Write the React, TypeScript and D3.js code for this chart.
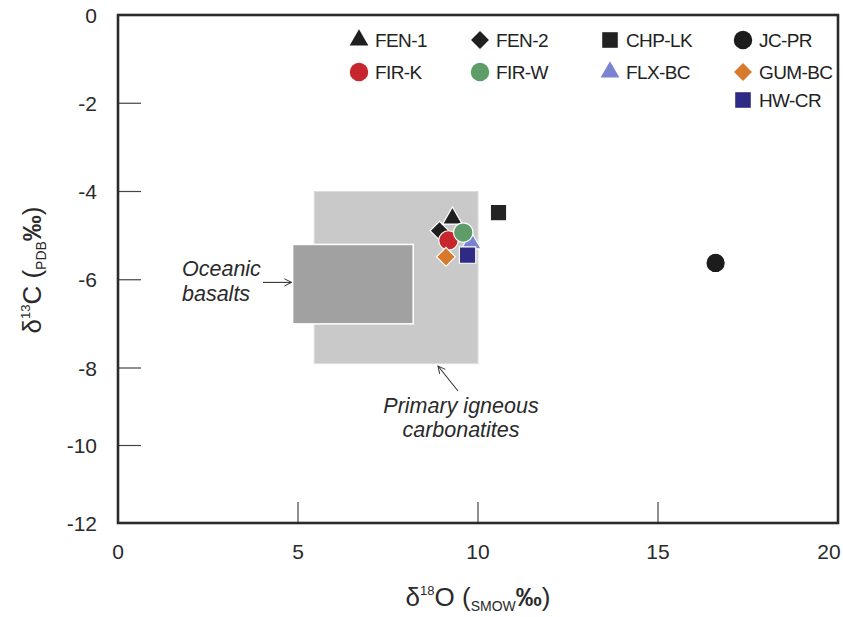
import React, { useEffect, useRef } from 'react'
import * as d3 from 'd3'

// sample series (order = legend order)
const series = ['FEN-1', 'FEN-2', 'CHP-LK', 'JC-PR', 'FIR-K', 'FIR-W', 'FLX-BC', 'GUM-BC', 'HW-CR']
const d18O = [9.29, 8.93, 10.57, 16.6, 9.18, 9.59, 9.81, 9.11, 9.71]
const d13C = [-4.61, -4.89, -4.48, -5.62, -5.11, -4.93, -5.17, -5.48, -5.44]
const shapes = ['triangle', 'diamond', 'square', 'circle', 'circle', 'circle', 'triangle', 'diamond', 'square']
const colors = ['#1f1f1f', '#1f1f1f', '#232323', '#1c1c1c', '#c8262f', '#5e9d6a', '#7a83d0', '#d77a2c', '#2e2a85']
const drawOrder = [1, 0, 6, 4, 5, 7, 8, 2, 3]

// reference fields
const fieldNames = ['Primary igneous carbonatites', 'Oceanic basalts']
const fieldX = [[5.45, 10], [4.85, 8.2]]
const fieldY = [[-7.9, -4], [-7.0, -5.2]]
const fieldFill = ['#c9c9c9', '#a1a1a1']

const xTicks = [0, 5, 10, 15, 20]
const yTicks = [0, -2, -4, -6, -8, -10, -12]

const W = 843
const H = 617
const font = '"Liberation Sans", Arial, sans-serif'

const symbolPath = (shape: string, big: boolean) => {
    const k = big ? 1.05 : 0.95
    if (shape === 'circle') return d3.symbol(d3.symbolCircle, Math.PI * 9.5 * 9.5 * k)()
    if (shape === 'square') return d3.symbol(d3.symbolSquare, 16 * 16 * k)()
    if (shape === 'triangle') return d3.symbol(d3.symbolTriangle, 160 * k)()
    return d3.symbol(d3.symbolSquare, 13 * 13 * k)()
}

const App = () => {
    const svgRef = useRef<SVGSVGElement>(null)

    useEffect(() => {
        const svg = d3.select(svgRef.current)
        svg.selectAll('*').remove()

        const x = d3.scaleLinear().domain([0, 20]).range([118, 838])
        // the original figure's y axis is not evenly spaced below -8
        const y = d3.scaleLinear().domain([0, -8, -12]).range([15, 368, 523])

        svg.append('rect').attr('width', W).attr('height', H).attr('fill', '#fff')

        const defs = svg.append('defs')
        defs.append('marker')
            .attr('id', 'arr')
            .attr('viewBox', '0 0 10 10')
            .attr('refX', 9).attr('refY', 5)
            .attr('markerWidth', 9).attr('markerHeight', 9)
            .attr('markerUnits', 'userSpaceOnUse')
            .attr('orient', 'auto')
            .append('path')
            .attr('d', 'M1,1 L9,5 L1,9')
            .attr('fill', 'none')
            .attr('stroke', '#333')
            .attr('stroke-width', 1.1)

        // fields
        fieldNames.forEach((n, i) => {
            svg.append('rect')
                .attr('x', x(fieldX[i][0]))
                .attr('y', y(fieldY[i][1]))
                .attr('width', x(fieldX[i][1]) - x(fieldX[i][0]))
                .attr('height', y(fieldY[i][0]) - y(fieldY[i][1]))
                .attr('fill', fieldFill[i])
                .attr('stroke', i === 0 ? '#dcdcdc' : '#ffffff')
                .attr('stroke-width', i === 0 ? 1 : 1.5)
        })

        // annotations
        const ann = svg.append('g')
            .attr('font-family', font)
            .attr('font-style', 'italic')
            .attr('font-size', 21.5)
            .attr('fill', '#2a2a2a')
        ann.append('text').attr('x', 182).attr('y', 276).text('Oceanic')
        ann.append('text').attr('x', 182).attr('y', 301).text('basalts')
        ann.append('line')
            .attr('x1', 263).attr('y1', y(-6.06))
            .attr('x2', x(fieldX[1][0]) - 1).attr('y2', y(-6.06))
            .attr('stroke', '#333').attr('stroke-width', 1.1)
            .attr('marker-end', 'url(#arr)')
        ann.append('text').attr('x', 461).attr('y', 413).attr('text-anchor', 'middle').text('Primary igneous')
        ann.append('text').attr('x', 461).attr('y', 437).attr('text-anchor', 'middle').text('carbonatites')
        ann.append('line')
            .attr('x1', 458).attr('y1', 391)
            .attr('x2', 438).attr('y2', 366)
            .attr('stroke', '#333').attr('stroke-width', 1.1)
            .attr('marker-end', 'url(#arr)')

        // tick marks (inside frame)
        svg.append('g').selectAll('line')
            .data(xTicks.filter(t => t > 0 && t < 20))
            .join('line')
            .attr('x1', d => x(d)).attr('x2', d => x(d))
            .attr('y1', 523).attr('y2', 502)
            .attr('stroke', '#444').attr('stroke-width', 1.2)
        svg.append('g').selectAll('line')
            .data(yTicks.filter(t => t < 0 && t > -12))
            .join('line')
            .attr('y1', d => y(d)).attr('y2', d => y(d))
            .attr('x1', 118).attr('x2', 141)
            .attr('stroke', '#444').attr('stroke-width', 1.2)

        // tick labels
        svg.append('g').selectAll('text')
            .data(xTicks)
            .join('text')
            .attr('x', d => Math.min(x(d), W - 14)).attr('y', 559)
            .attr('text-anchor', 'middle')
            .attr('font-family', font).attr('font-size', 21)
            .attr('fill', '#2a2a2a')
            .text(d => d)
        svg.append('g').selectAll('text')
            .data(yTicks)
            .join('text')
            .attr('x', 97).attr('y', d => y(d))
            .attr('dy', '0.36em')
            .attr('text-anchor', 'end')
            .attr('font-family', font).attr('font-size', 21)
            .attr('fill', '#2a2a2a')
            .text(d => d)

        // frame
        svg.append('rect')
            .attr('x', 118).attr('y', 15)
            .attr('width', 720).attr('height', 508)
            .attr('fill', 'none')
            .attr('stroke', '#2b2b2b')
            .attr('stroke-width', 2.6)

        // data points
        svg.append('g').selectAll('path')
            .data(drawOrder)
            .join('path')
            .attr('d', i => symbolPath(shapes[i], true))
            .attr('transform', i => `translate(${x(d18O[i])},${y(d13C[i])})${shapes[i] === 'diamond' ? ' rotate(45)' : ''}`)
            .attr('fill', i => colors[i])
            .attr('stroke', '#fff')
            .attr('stroke-width', 1.2)

        // legend
        const colX = [359, 480, 610, 743]
        const rowY = [40, 72, 100]
        const leg = svg.append('g').selectAll('g')
            .data(series.map((s, i) => i))
            .join('g')
            .attr('transform', i => `translate(${colX[i < 8 ? i % 4 : 3]},${rowY[i < 8 ? Math.floor(i / 4) : 2]})`)
        leg.append('path')
            .attr('d', i => symbolPath(shapes[i], false))
            .attr('transform', i => shapes[i] === 'diamond' ? 'rotate(45)' : '')
            .attr('fill', i => colors[i])
        leg.append('text')
            .attr('x', 16)
            .attr('dy', '0.36em')
            .attr('font-family', font)
            .attr('font-size', 19)
            .attr('letter-spacing', -0.6)
            .attr('fill', '#222')
            .text(i => series[i])

        // axis titles
        const xt = svg.append('text')
            .attr('x', 478).attr('y', 606)
            .attr('text-anchor', 'middle')
            .attr('font-family', font).attr('font-size', 26)
            .attr('fill', '#2a2a2a')
        xt.append('tspan').text('δ')
        xt.append('tspan').attr('font-size', 13).attr('dy', -11).text('18')
        xt.append('tspan').attr('dy', 11).text('O (')
        xt.append('tspan').attr('font-size', 14).attr('dy', 5).text('SMOW')
        xt.append('tspan').attr('dy', -5).attr('font-weight', 'bold').text('‰')
        xt.append('tspan').text(')')

        const yt = svg.append('text')
            .attr('transform', 'translate(41,270) rotate(-90)')
            .attr('text-anchor', 'middle')
            .attr('font-family', font).attr('font-size', 26)
            .attr('fill', '#2a2a2a')
        yt.append('tspan').text('δ')
        yt.append('tspan').attr('font-size', 13).attr('dy', -11).text('13')
        yt.append('tspan').attr('dy', 11).text('C (')
        yt.append('tspan').attr('font-size', 14).attr('dy', 5).text('PDB')
        yt.append('tspan').attr('dy', -5).attr('font-weight', 'bold').text('‰')
        yt.append('tspan').text(')')
    }, [])

    return (
        <svg
            ref={svgRef}
            width={W}
            height={H}
            style={{ position: 'absolute', left: 0, top: 0, display: 'block' }}
        />
    )
}

export default App
